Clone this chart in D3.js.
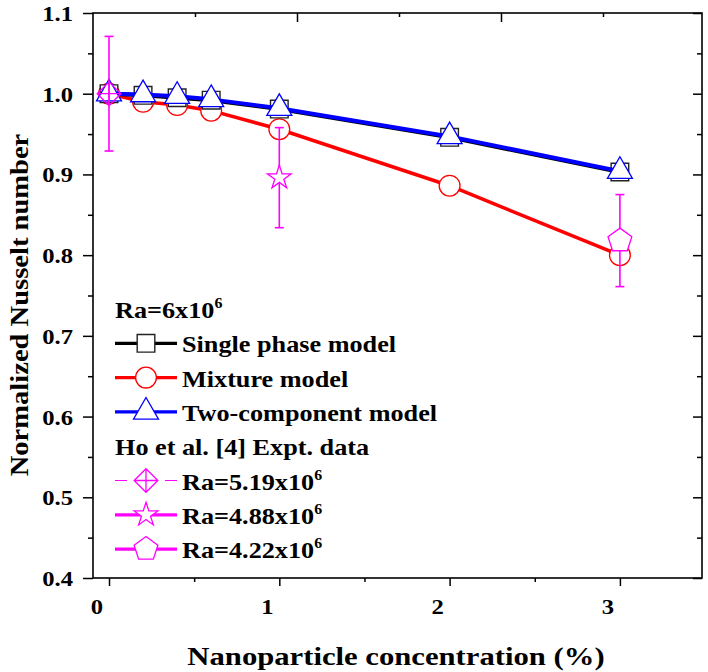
<!DOCTYPE html>
<html>
<head>
<meta charset="utf-8">
<script src="https://cdn.jsdelivr.net/npm/d3@7"></script>
<style>
  html, body { margin: 0; padding: 0; background: #fff; }
  svg { display: block; }
  text { font-family: "Liberation Serif", "Times New Roman", serif; font-weight: bold; fill: #000; }
</style>
</head>
<body>
<svg id="chart" width="708" height="672"></svg>
<script>
// ---------------- data ----------------
const concentration = [0, 0.2, 0.4, 0.6, 1, 2, 3];
const singlePhase   = [1.000, 0.998, 0.995, 0.992, 0.981, 0.946, 0.903];
const mixture       = [1.000, 0.990, 0.986, 0.979, 0.956, 0.886, 0.800];
const twoComponent  = [1.000, 0.999, 0.997, 0.993, 0.982, 0.947, 0.904];

const exp519X = [0];   const exp519Y = [1.000]; const exp519Err = [0.071];
const exp488X = [1];   const exp488Y = [0.896]; const exp488Err = [0.062];
const exp422X = [3];   const exp422Y = [0.818]; const exp422Err = [0.057];

const yMajorTicks = [0.4, 0.5, 0.6, 0.7, 0.8, 0.9, 1.0, 1.1];
const yMinorTicks = [0.45, 0.55, 0.65, 0.75, 0.85, 0.95, 1.05];
const xMajorTicks = [0, 1, 2, 3];
const xMinorTicks = [0.5, 1.5, 2.5];
const topMajorTicks = [1, 2];
const topMinorTicks = [0.5, 1.5, 2.5];

const yTitle = "Normalized Nusselt number";
const xTitle = "Nanoparticle concentration (%)";
const legendHeader = ["Ra=6x10", "6"];
const legendExpHeader = "Ho et al. [4] Expt. data";
const legendLabels = ["Single phase model", "Mixture model", "Two-component model"];
const legendExpLabels = [["Ra=5.19x10", "6"], ["Ra=4.88x10", "6"], ["Ra=4.22x10", "6"]];

// ---------------- layout ----------------
const L = 93, R = 702, T = 13, B = 578;
const svg = d3.select("#chart");
const x = d3.scaleLinear().domain([-0.094, 3.482]).range([L, R]);
const y = d3.scaleLinear().domain([0.4, 1.1]).range([B, T]);
const xTop = d3.scaleLinear().domain([0, 3]).range([L, L + 612]);

const MAG = "#ff00ff";

// custom symbols
const pentagon = {
  draw(ctx, size) {
    const r = Math.sqrt(size / 2.378);
    for (let i = 0; i < 5; i++) {
      const a = -Math.PI / 2 + i * 2 * Math.PI / 5;
      const px = r * Math.cos(a), py = r * Math.sin(a);
      if (i === 0) ctx.moveTo(px, py); else ctx.lineTo(px, py);
    }
    ctx.closePath();
  }
};
const diamondCross = {
  draw(ctx, size) {
    const r = Math.sqrt(size) / 2;
    ctx.moveTo(0, -r); ctx.lineTo(r, 0); ctx.lineTo(0, r); ctx.lineTo(-r, 0); ctx.closePath();
    ctx.moveTo(-r, 0); ctx.lineTo(r, 0);
    ctx.moveTo(0, -r); ctx.lineTo(0, r);
  }
};

const series = [
  { vals: mixture, color: "#ff0000", lw: 3.5, sym: d3.symbolCircle, size: 340, fill: "#fff", mstroke: "#ff0000", msw: 1.3 },
  { vals: singlePhase, color: "#000", lw: 4, sym: d3.symbolSquare, size: 310, fill: "#fff", mstroke: "#222", msw: 1.4 },
  { vals: twoComponent, color: "#0000ff", lw: 4, sym: d3.symbolTriangle, size: 270, fill: "#fff", mstroke: "#0000ff", msw: 1.3 }
];

// ---------------- axes ----------------
function styleAxis(g) {
  g.select(".domain").remove();
  g.selectAll("line").attr("stroke", "#000").attr("stroke-width", 1.5);
  g.attr("font-family", null).attr("font-size", null);
}

// left
svg.append("g").attr("transform", `translate(${L},0)`)
  .call(d3.axisLeft(y).tickValues(yMinorTicks).tickSize(5).tickFormat(""))
  .call(styleAxis);
const gLeft = svg.append("g").attr("transform", `translate(${L},0)`)
  .call(d3.axisLeft(y).tickValues(yMajorTicks).tickSize(10).tickFormat(d3.format(".1f")))
  .call(styleAxis);
gLeft.selectAll("text").attr("x", null).attr("dy", "0.34em")
  .attr("transform", "translate(-20,0) scale(1.12,1)")
  .style("font-size", "22px").attr("text-anchor", "end");

// right (inward)
svg.append("g").attr("transform", `translate(${R},0)`)
  .call(d3.axisRight(y).tickValues(yMinorTicks).tickSize(-5).tickFormat(""))
  .call(styleAxis);
svg.append("g").attr("transform", `translate(${R},0)`)
  .call(d3.axisRight(y).tickValues(yMajorTicks).tickSize(-9).tickFormat(""))
  .call(styleAxis);

// bottom
svg.append("g").attr("transform", `translate(0,${B})`)
  .call(d3.axisBottom(x).tickValues(xMinorTicks).tickSize(4).tickFormat(""))
  .call(styleAxis);
const gBottom = svg.append("g").attr("transform", `translate(0,${B})`)
  .call(d3.axisBottom(x).tickValues(xMajorTicks).tickSize(8).tickFormat(d3.format("d")))
  .call(styleAxis);
gBottom.selectAll("text").attr("x", null).attr("y", 20).attr("dy", "0.71em")
  .attr("transform", "translate(-12.5,0) scale(1.12,1)")
  .style("font-size", "22px");

// top (inward)
svg.append("g").attr("transform", `translate(0,${T})`)
  .call(d3.axisTop(xTop).tickValues(topMinorTicks).tickSize(-4).tickFormat(""))
  .call(styleAxis);
svg.append("g").attr("transform", `translate(0,${T})`)
  .call(d3.axisTop(xTop).tickValues(topMajorTicks).tickSize(-9).tickFormat(""))
  .call(styleAxis);

// frame
svg.append("rect").attr("x", L).attr("y", T).attr("width", R - L).attr("height", B - T)
  .attr("fill", "none").attr("stroke", "#000").attr("stroke-width", 1.6);

// titles
svg.append("text").attr("transform", "translate(28,305) rotate(-90) scale(1.12,1)")
  .attr("text-anchor", "middle").style("font-size", "25.5px").text(yTitle);
svg.append("text").attr("transform", "translate(396,665) scale(1.18,1)")
  .attr("text-anchor", "middle").style("font-size", "26px").text(xTitle);

// ---------------- series ----------------
const line = d3.line().x((d, i) => x(concentration[i])).y(d => y(d));
series.forEach(s => {
  svg.append("path").datum(s.vals).attr("d", line)
    .attr("fill", "none").attr("stroke", s.color).attr("stroke-width", s.lw)
    .attr("stroke-linejoin", "round");
  svg.append("g").selectAll("path").data(s.vals).join("path")
    .attr("transform", (d, i) => `translate(${x(concentration[i])},${y(d)})`)
    .attr("d", d3.symbol(s.sym, s.size))
    .attr("fill", s.fill).attr("stroke", s.mstroke).attr("stroke-width", s.msw);
});

// experimental
const expSets = [
  { xs: exp519X, ys: exp519Y, es: exp519Err, sym: diamondCross, size: 560, fill: "none" },
  { xs: exp488X, ys: exp488Y, es: exp488Err, sym: d3.symbolStar, size: 175, fill: "#fff" },
  { xs: exp422X, ys: exp422Y, es: exp422Err, sym: pentagon, size: 372, fill: "#fff" }
];
expSets.forEach(s => {
  const g = svg.append("g").attr("stroke", MAG).attr("stroke-width", 1.6);
  s.xs.forEach((xv, i) => {
    const cx = x(xv), top = y(s.ys[i] + s.es[i]), bot = y(s.ys[i] - s.es[i]);
    g.append("line").attr("x1", cx).attr("x2", cx).attr("y1", top).attr("y2", bot);
    g.append("line").attr("x1", cx - 4.5).attr("x2", cx + 4.5).attr("y1", top).attr("y2", top);
    g.append("line").attr("x1", cx - 4.5).attr("x2", cx + 4.5).attr("y1", bot).attr("y2", bot);
  });
  svg.append("g").selectAll("path").data(s.ys).join("path")
    .attr("transform", (d, i) => `translate(${x(s.xs[i])},${y(d)})`)
    .attr("d", d3.symbol(s.sym, s.size))
    .attr("fill", s.fill).attr("stroke", MAG).attr("stroke-width", 1.3);
});

// ---------------- legend ----------------
const LX0 = 115, LX1 = 177, LTX = 182, LB0 = 318, LDY = 34.3, SYMOFF = 9;
const TS = 1.14;
function legText(xp, yb, parts) {
  const t = svg.append("text").attr("transform", `translate(${xp},${yb}) scale(${TS},1)`)
    .style("font-size", "23px");
  if (typeof parts === "string") { t.text(parts); return; }
  t.append("tspan").text(parts[0]);
  t.append("tspan").attr("dy", -10).style("font-size", "14px").text(parts[1]);
}
legText(LX0, LB0, legendHeader);
const legOrder = [1, 0, 2]; // single, mixture, two-component
legOrder.forEach((si, k) => {
  const s = series[si];
  const yb = LB0 + LDY * (k + 1), yc = yb - SYMOFF;
  svg.append("line").attr("x1", LX0).attr("x2", LX1).attr("y1", yc).attr("y2", yc)
    .attr("stroke", s.color).attr("stroke-width", 3.2);
  svg.append("path").attr("transform", `translate(${(LX0 + LX1) / 2},${yc})`)
    .attr("d", d3.symbol(s.sym, s.size)).attr("fill", s.fill)
    .attr("stroke", s.mstroke).attr("stroke-width", s.msw);
  legText(LTX, yb, legendLabels[k]);
});
legText(LX0, LB0 + LDY * 4, legendExpHeader);
expSets.forEach((s, k) => {
  const yb = LB0 + LDY * (5 + k), yc = yb - SYMOFF;
  const ln = svg.append("line").attr("x1", LX0).attr("x2", LX1).attr("y1", yc).attr("y2", yc)
    .attr("stroke", MAG).attr("stroke-width", k === 0 ? 1 : 3.2);
  if (k === 0) ln.attr("stroke-dasharray", "12 38 12");
  svg.append("path").attr("transform", `translate(${(LX0 + LX1) / 2},${yc})`)
    .attr("d", d3.symbol(s.sym, s.size)).attr("fill", "#fff")
    .attr("stroke", MAG).attr("stroke-width", 1.3);
  legText(LTX, yb, legendExpLabels[k]);
});
</script>
</body>
</html>
